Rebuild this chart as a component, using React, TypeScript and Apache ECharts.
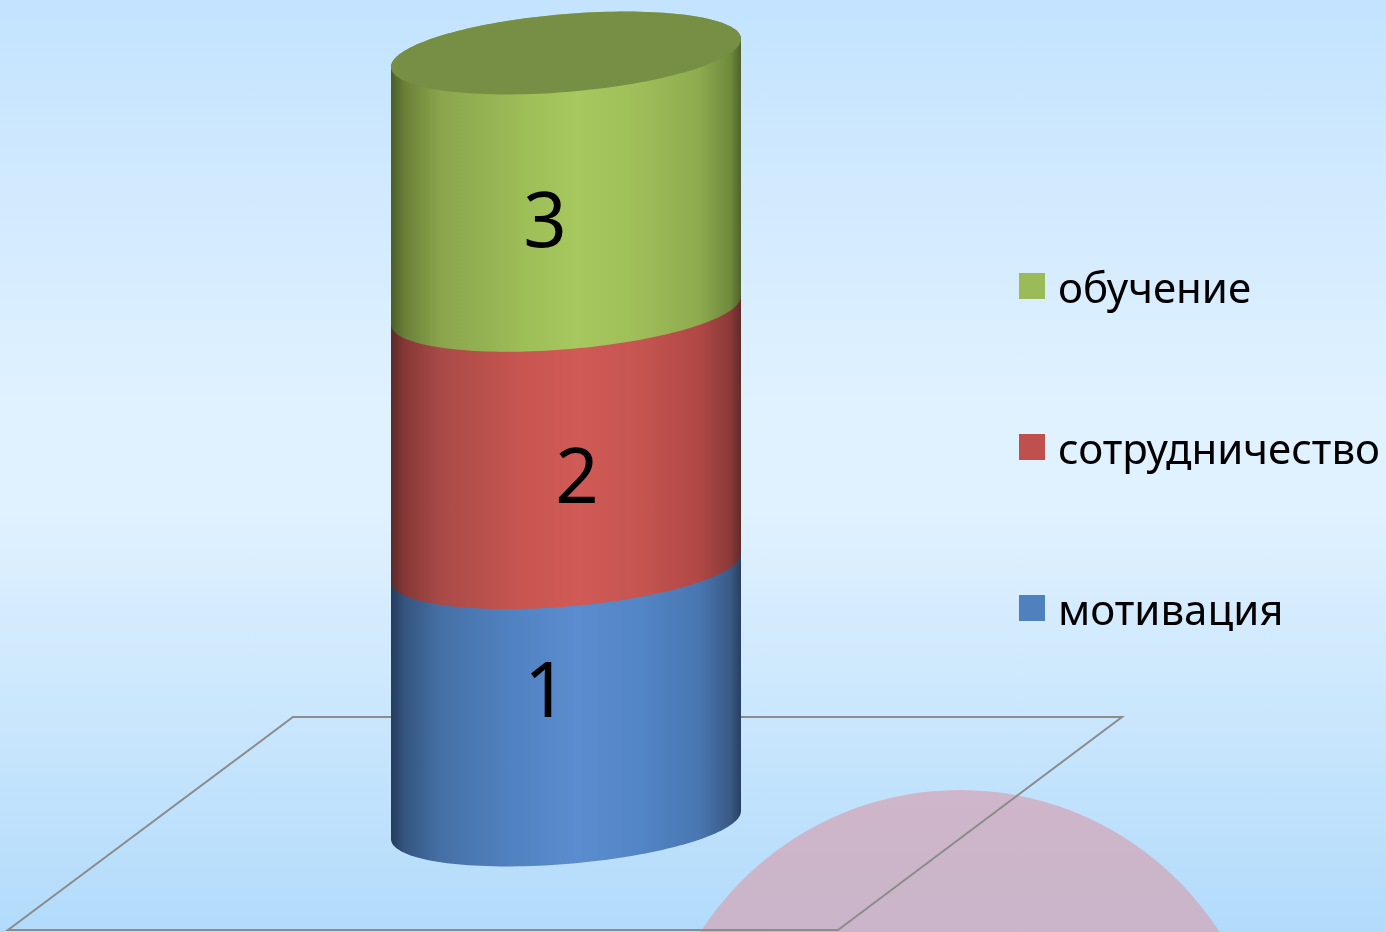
import React, { useEffect, useRef } from "react";
import * as echarts from "echarts";

const categories = ["Ряд 1"];
const seriesNames = ["мотивация", "сотрудничество", "обучение"];
const seriesValues = [1, 1, 1];
const labelTexts = ["1", "2", "3"];
const legendOrder = ["обучение", "сотрудничество", "мотивация"];

const legendColors = ["#4f81bd", "#c0504d", "#9bbb59"];
const stopOffsets = [0, 0.04, 0.14, 0.37, 0.53, 0.71, 0.88, 0.97, 1];
const sideStops = [
  ["#253c5e", "#35557f", "#4570a6", "#5284c4", "#5a8ccf", "#5386c6", "#4877b2", "#3a5a85", "#283f60"],
  ["#5a2b29", "#863836", "#a84a47", "#c85550", "#d05a56", "#c65551", "#b04845", "#8a3a38", "#5e2b2a"],
  ["#4a5e2a", "#6a8138", "#8aa44c", "#9dbd58", "#a6c85e", "#9fbe59", "#8eaa4f", "#6f8a3c", "#4f632c"],
];
const capColor = "#778e45";
const labelShift = [
  [-20, -9],
  [11, 34],
  [-21, 36],
];

const B = 39; // ellipse vertical half axis (px)
const H = 14; // ellipse tilt (px)

function ellipsePts(cx: number, cy: number, a: number, t0: number, t1: number, n: number) {
  const pts: number[][] = [];
  for (let k = 0; k <= n; k++) {
    const t = t0 + ((t1 - t0) * k) / n;
    pts.push([cx + a * Math.cos(t), cy + B * Math.sin(t) - H * Math.cos(t)]);
  }
  return pts;
}

export default function App() {
  const ref = useRef<HTMLDivElement>(null);
  useEffect(() => {
    if (!ref.current) return;
    const chart = echarts.init(ref.current, undefined, { renderer: "svg" });
    const cum: number[] = [];
    let acc = 0;
    seriesValues.forEach((v) => {
      cum.push(acc);
      acc += v;
    });
    const last = seriesValues.length - 1;

    const series = seriesNames.map((name, i) => ({
      type: "custom",
      name,
      itemStyle: { color: legendColors[i] },
      data: [[0, cum[i], cum[i] + seriesValues[i]]],
      renderItem: (params: any, api: any) => {
        const base = api.coord([api.value(0), api.value(1)]);
        const top = api.coord([api.value(0), api.value(2)]);
        const bw = api.size([1, 0])[0];
        const a = bw / 2;
        const cx = base[0];
        const pts = [
          ...ellipsePts(cx, top[1], a, Math.PI, 2 * Math.PI, 80),
          ...ellipsePts(cx, base[1], a, 0, Math.PI, 80),
        ];
        const s = sideStops[i];
        const children: any[] = [
          {
            type: "polygon",
            shape: { points: pts },
            style: {
              fill: {
                type: "linear",
                x: 0,
                y: 0,
                x2: 1,
                y2: 0,
                colorStops: stopOffsets.map((o, k) => ({ offset: o, color: s[k] })),
              },
            },
          },
        ];
        if (i === last) {
          children.push({
            type: "polygon",
            shape: { points: ellipsePts(cx, top[1], a, 0, 2 * Math.PI, 160) },
            style: { fill: capColor },
          });
        }
        const midY = (base[1] + top[1]) / 2;
        children.push({
          type: "text",
          x: cx + labelShift[i][0],
          y: midY + labelShift[i][1],
          style: {
            text: labelTexts[i],
            fontSize: 76,
            fontFamily: "Noto Sans",
            fill: "#000",
            align: "center",
            verticalAlign: "middle",
          },
        });
        return { type: "group", children };
      },
    }));

    chart.setOption({
      animation: false,
      grid: { left: 391, right: 645, top: 53, bottom: 107 },
      xAxis: { type: "category", data: categories, show: false },
      yAxis: { type: "value", min: 0, max: 3, show: false },
      legend: {
        orient: "vertical",
        left: 1019,
        top: 265,
        padding: 0,
        icon: "rect",
        itemWidth: 26,
        itemHeight: 26,
        itemGap: 119,
        data: legendOrder,
        selectedMode: false,
        textStyle: {
          fontSize: 42,
          lineHeight: 26,
          fontFamily: "Noto Sans",
          color: "#000",
          padding: [0, 0, 0, 8],
        },
      },
      graphic: [
        {
          type: "rect",
          z: -10,
          shape: { x: 0, y: 0, width: 1386, height: 932 },
          style: {
            fill: {
              type: "linear",
              x: 0,
              y: 0,
              x2: 0,
              y2: 1,
              colorStops: [
                { offset: 0, color: "#c3e3fe" },
                { offset: 0.45, color: "#e1f2ff" },
                { offset: 0.55, color: "#e0f1ff" },
                { offset: 1, color: "#b2dbfb" },
              ],
            },
          },
        },
        {
          type: "circle",
          z: -5,
          shape: { cx: 960, cy: 1098, r: 308 },
          style: {
            fill: {
              type: "linear",
              x: 0,
              y: 0,
              x2: 0,
              y2: 1,
              colorStops: [
                { offset: 0, color: "#cfb6ca" },
                { offset: 0.5, color: "#c3b3c9" },
                { offset: 1, color: "#c0b3c9" },
              ],
            },
          },
        },
        {
          type: "polygon",
          z: -4,
          shape: {
            points: [
              [293, 717],
              [1122, 717],
              [838, 930],
              [8, 930],
            ],
          },
          style: { fill: "none", stroke: "#8c8c8c", lineWidth: 2 },
        },
      ],
      series,
    });
    return () => chart.dispose();
  }, []);
  return (
    <div
      ref={ref}
      style={{ position: "fixed", left: 0, top: 0, width: 1386, height: 932 }}
    />
  );
}
